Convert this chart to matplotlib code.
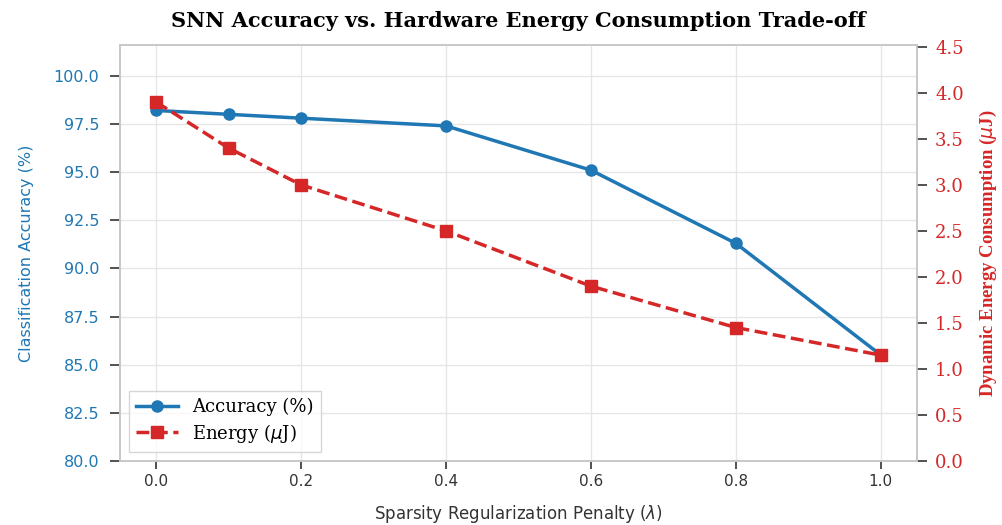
import matplotlib
matplotlib.use("Agg")
import matplotlib.pyplot as plt

penalty = [0.0, 0.1, 0.2, 0.4, 0.6, 0.8, 1.0]
accuracy = [98.2, 98.0, 97.8, 97.4, 95.1, 91.3, 85.5]
energy = [3.9, 3.4, 3.0, 2.5, 1.9, 1.45, 1.15]
x_ticks = [0.0, 0.2, 0.4, 0.6, 0.8, 1.0]
acc_ticks = [80.0, 82.5, 85.0, 87.5, 90.0, 92.5, 95.0, 97.5, 100.0]
en_ticks = [0.0, 0.5, 1.0, 1.5, 2.0, 2.5, 3.0, 3.5, 4.0, 4.5]

blue = '#1f77b4'
red = '#d62728'
spine_col = '#c8c8c8'

fig = plt.figure(figsize=(10.03, 5.25), dpi=100)
ax = fig.add_axes([0.1196, 0.1219, 0.7947, 0.7924])
ax2 = ax.twinx()

l1, = ax.plot(penalty, accuracy, color=blue, marker='o', markersize=8, linewidth=2.5,
              label='Accuracy (%)', zorder=3)
l2, = ax2.plot(penalty, energy, color=red, marker='s', markersize=8, linewidth=2.5,
               linestyle='--', label='Energy ($\\mu$J)', zorder=3)

ax.set_xticks(x_ticks)
ax.set_xticklabels([f'{v:.1f}' for v in x_ticks], fontsize=11, family='DejaVu Sans', color='#333333')
ax.set_yticks(acc_ticks)
ax.set_yticklabels([f'{v:.1f}' for v in acc_ticks], fontsize=11.5, family='DejaVu Sans', color=blue)
ax.set_ylim(80, 101.6)
ax.set_xlim(-0.05, 1.05)
ax2.set_yticks(en_ticks)
ax2.set_yticklabels([f'{v:.1f}' for v in en_ticks], fontsize=13, family='DejaVu Serif', color=red)
ax2.set_ylim(0, 4.52)

ax.grid(True, color='#e6e6e6', linewidth=1.0)
ax.set_axisbelow(True)
for a in (ax, ax2):
    for s in a.spines.values():
        s.set_color(spine_col)
        s.set_linewidth(1.2)
ax.tick_params(axis='x', direction='out', length=6, width=1.2, color='#333333')
ax.tick_params(axis='y', direction='out', length=7, width=1.2, color='#333333', pad=8)
ax2.tick_params(axis='y', direction='out', length=7, width=1.2, color='#333333', pad=6)

ax.set_xlabel('Sparsity Regularization Penalty ($\\lambda$)', fontsize=12, family='DejaVu Sans',
              color='#333333', labelpad=10)
ax.set_ylabel('Classification Accuracy (%)', fontsize=11.5, family='DejaVu Sans', color=blue,
              labelpad=14)
ax2.set_ylabel('Dynamic Energy Consumption ($\\mu$J)', fontsize=13.5, family='Liberation Serif',
               fontweight='bold', color=red, labelpad=10)
ax.set_title('SNN Accuracy vs. Hardware Energy Consumption Trade-off', fontsize=15,
             family='DejaVu Serif', fontweight='bold', pad=13)

leg = ax.legend([l1, l2], ['Accuracy (%)', 'Energy ($\\mu$J)'], loc='lower left',
                prop={'family': 'DejaVu Serif', 'size': 13}, frameon=True, fancybox=False,
                edgecolor='#cccccc', borderaxespad=0.5, labelspacing=0.3, handlelength=2.3)
leg.set_zorder(5)

fig.savefig('out.png', dpi=100)
